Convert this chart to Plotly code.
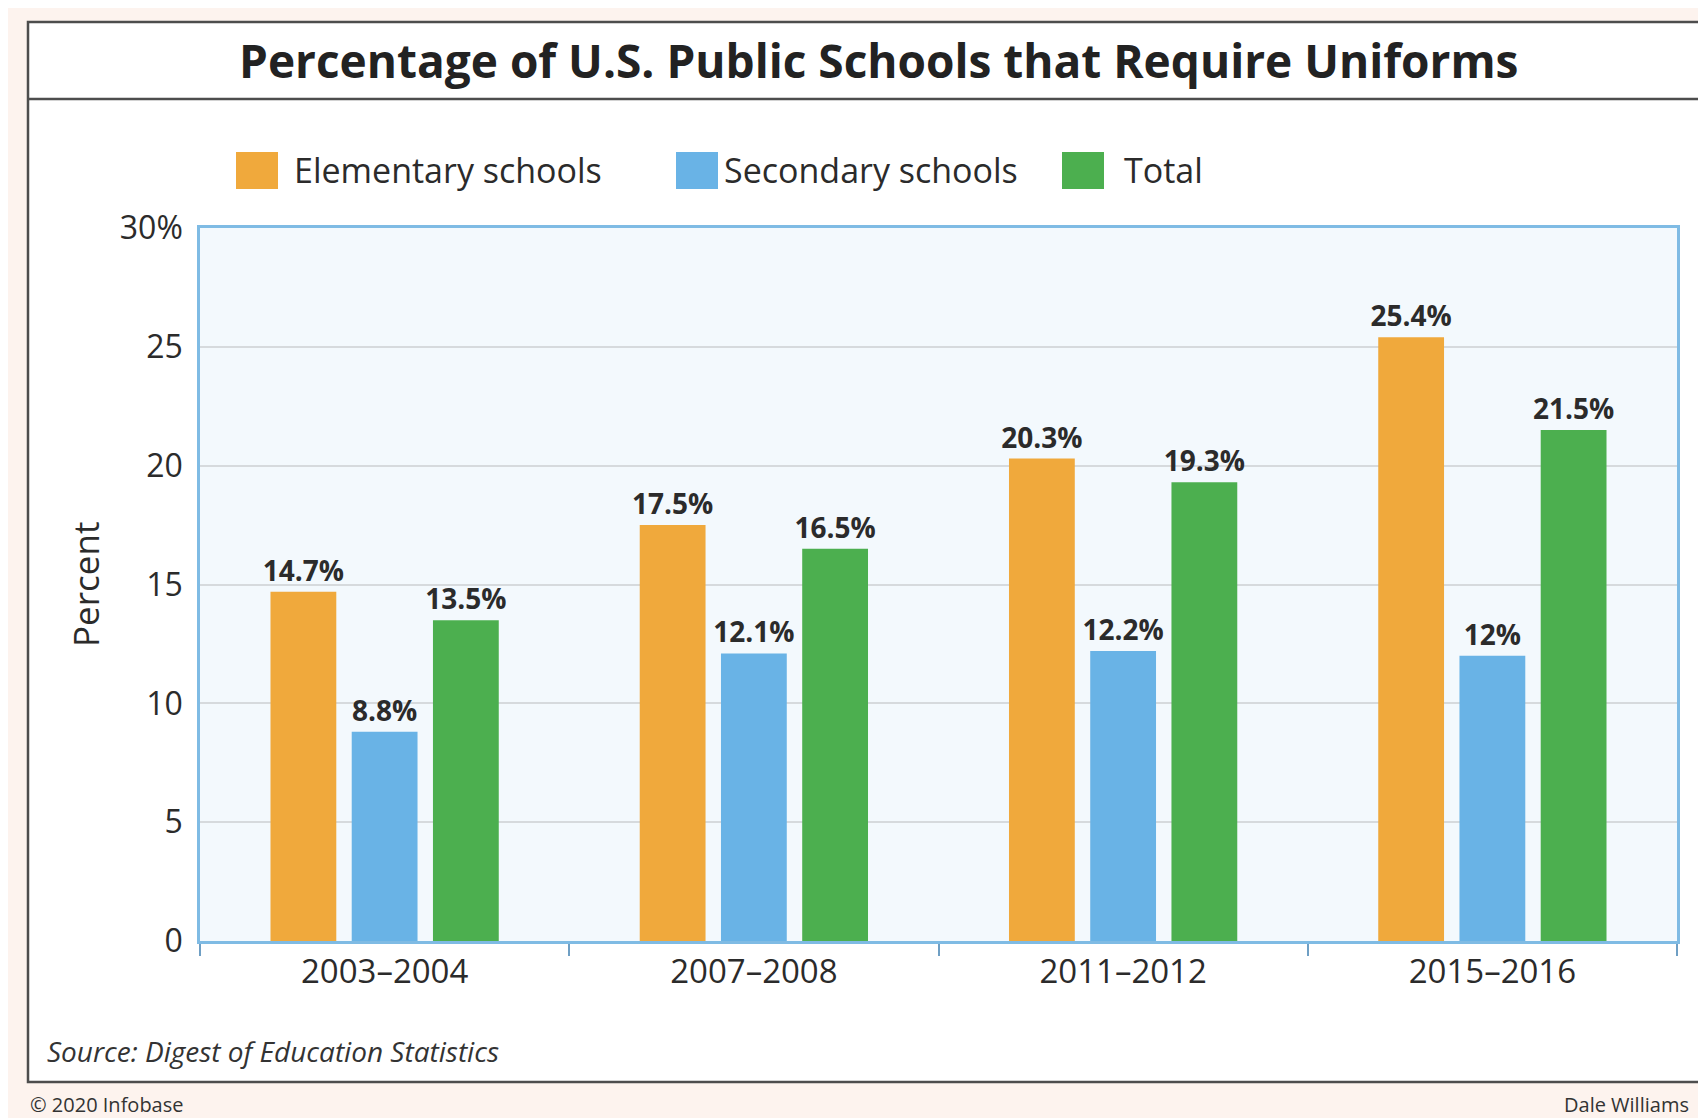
import plotly.graph_objects as go

categories = ["2003\u20132004", "2007\u20132008", "2011\u20132012", "2015\u20132016"]
elementary = [14.7, 17.5, 20.3, 25.4]
secondary = [8.8, 12.1, 12.2, 12.0]
total = [13.5, 16.5, 19.3, 21.5]
series_names = ["Elementary schools", "Secondary schools", "Total"]
series_colors = ["#f0a93c", "#69b3e6", "#4caf4f"]
y_tickvals = [0, 5, 10, 15, 20, 25, 30]
y_ticktext = ["0", "5", "10", "15", "20", "25", "30%"]

# the page body adds an 8 px margin; the figure is sized to fit the window
OFF = 8
W, H = 1706 - OFF, 1118 - OFF
L, R, T, B = 200 - OFF, 1677 - OFF, 228 - OFF, 941 - OFF
FONT = "Open Sans"


def xp(px):
    # px given in reference (window) pixels
    return (px - OFF - L) / (R - L)


def yp(py):
    return (B - (py - OFF)) / (B - T)


fig = go.Figure()
for name, vals, col in zip(series_names, [elementary, secondary, total], series_colors):
    fig.add_trace(go.Bar(
        x=categories, y=vals, name=name, marker=dict(color=col, line=dict(width=0)),
        text=[f"{v:g}%" for v in vals], textposition="outside", constraintext="none",
        textfont=dict(family=FONT, size=28, color="#2b2b2b", weight="bold"),
        cliponaxis=False, showlegend=False,
    ))

shapes = [
    dict(type="rect", xref="paper", yref="paper", x0=xp(28), x1=xp(1740), y0=yp(1082), y1=yp(22),
         fillcolor="white", line=dict(color="#4d4d4d", width=2.5), layer="below"),
    dict(type="line", xref="paper", yref="paper", x0=xp(28), x1=xp(1740), y0=yp(99), y1=yp(99),
         line=dict(color="#4d4d4d", width=2.5), layer="below"),
    dict(type="rect", xref="paper", yref="paper", x0=0, x1=1, y0=0, y1=1,
         fillcolor="#f3f9fd", line=dict(width=0), layer="below"),
]

annotations = [
    dict(text="<b>Percentage of U.S. Public Schools that Require Uniforms</b>", x=xp(878), y=yp(60),
         xref="paper", yref="paper", xanchor="center", yanchor="middle", showarrow=False,
         font=dict(family=FONT, size=46, color="#222222")),
    dict(text="Percent", x=xp(85), y=yp(584), textangle=-90,
         xref="paper", yref="paper", xanchor="center", yanchor="middle", showarrow=False,
         font=dict(family=FONT, size=35, color="#2b2b2b")),
    dict(text="<i>Source: Digest of Education Statistics</i>", x=xp(45), y=yp(1051),
         xref="paper", yref="paper", xanchor="left", yanchor="middle", showarrow=False,
         font=dict(family=FONT, size=28, color="#333333")),
    dict(text="\u00a9 2020 Infobase", x=xp(28), y=yp(1104),
         xref="paper", yref="paper", xanchor="left", yanchor="middle", showarrow=False,
         font=dict(family=FONT, size=20, color="#333333")),
    dict(text="Dale Williams", x=xp(1562), y=yp(1104),
         xref="paper", yref="paper", xanchor="left", yanchor="middle", showarrow=False,
         font=dict(family=FONT, size=20, color="#333333")),
]

legend_swatch_x = [236, 676, 1062]
legend_text_x = [292, 722, 1122]
for name, col, sx, tx in zip(series_names, series_colors, legend_swatch_x, legend_text_x):
    shapes.append(dict(type="rect", xref="paper", yref="paper", x0=xp(sx), x1=xp(sx + 42),
                       y0=yp(189), y1=yp(152), fillcolor=col, line=dict(width=0)))
    annotations.append(dict(text=name, x=xp(tx), y=yp(170), xref="paper", yref="paper",
                            xanchor="left", yanchor="middle", showarrow=False,
                            font=dict(family=FONT, size=34, color="#2b2b2b")))

fig.update_layout(
    width=W, height=H,
    margin=dict(l=L, r=W - R, t=T, b=H - B, autoexpand=False),
    paper_bgcolor="#fdf3ee",
    plot_bgcolor="rgba(0,0,0,0)",
    barmode="group", bargap=0.34, bargroupgap=0.19,
    showlegend=False,
    shapes=shapes, annotations=annotations,
    font=dict(family=FONT, color="#2b2b2b"),
)
fig.update_xaxes(
    range=[-0.5, 3.5], showline=True, mirror=True, linecolor="#7fbbe4", linewidth=2.5,
    ticks="outside", tickson="boundaries", ticklen=12, tickcolor="#6f9fc4", tickwidth=2,
    tickfont=dict(family=FONT, size=33, color="#2b2b2b"), showgrid=False,
)
fig.update_yaxes(
    range=[0, 30], tickvals=y_tickvals, ticktext=y_ticktext,
    showline=True, mirror=True, linecolor="#7fbbe4", linewidth=2.5,
    showgrid=True, gridcolor="#d6dadd", gridwidth=1.5, zeroline=False,
    ticks="outside", ticklen=8, tickcolor="rgba(0,0,0,0)",
    tickfont=dict(family=FONT, size=32, color="#2b2b2b"),
)

fig.write_html("out.html")
